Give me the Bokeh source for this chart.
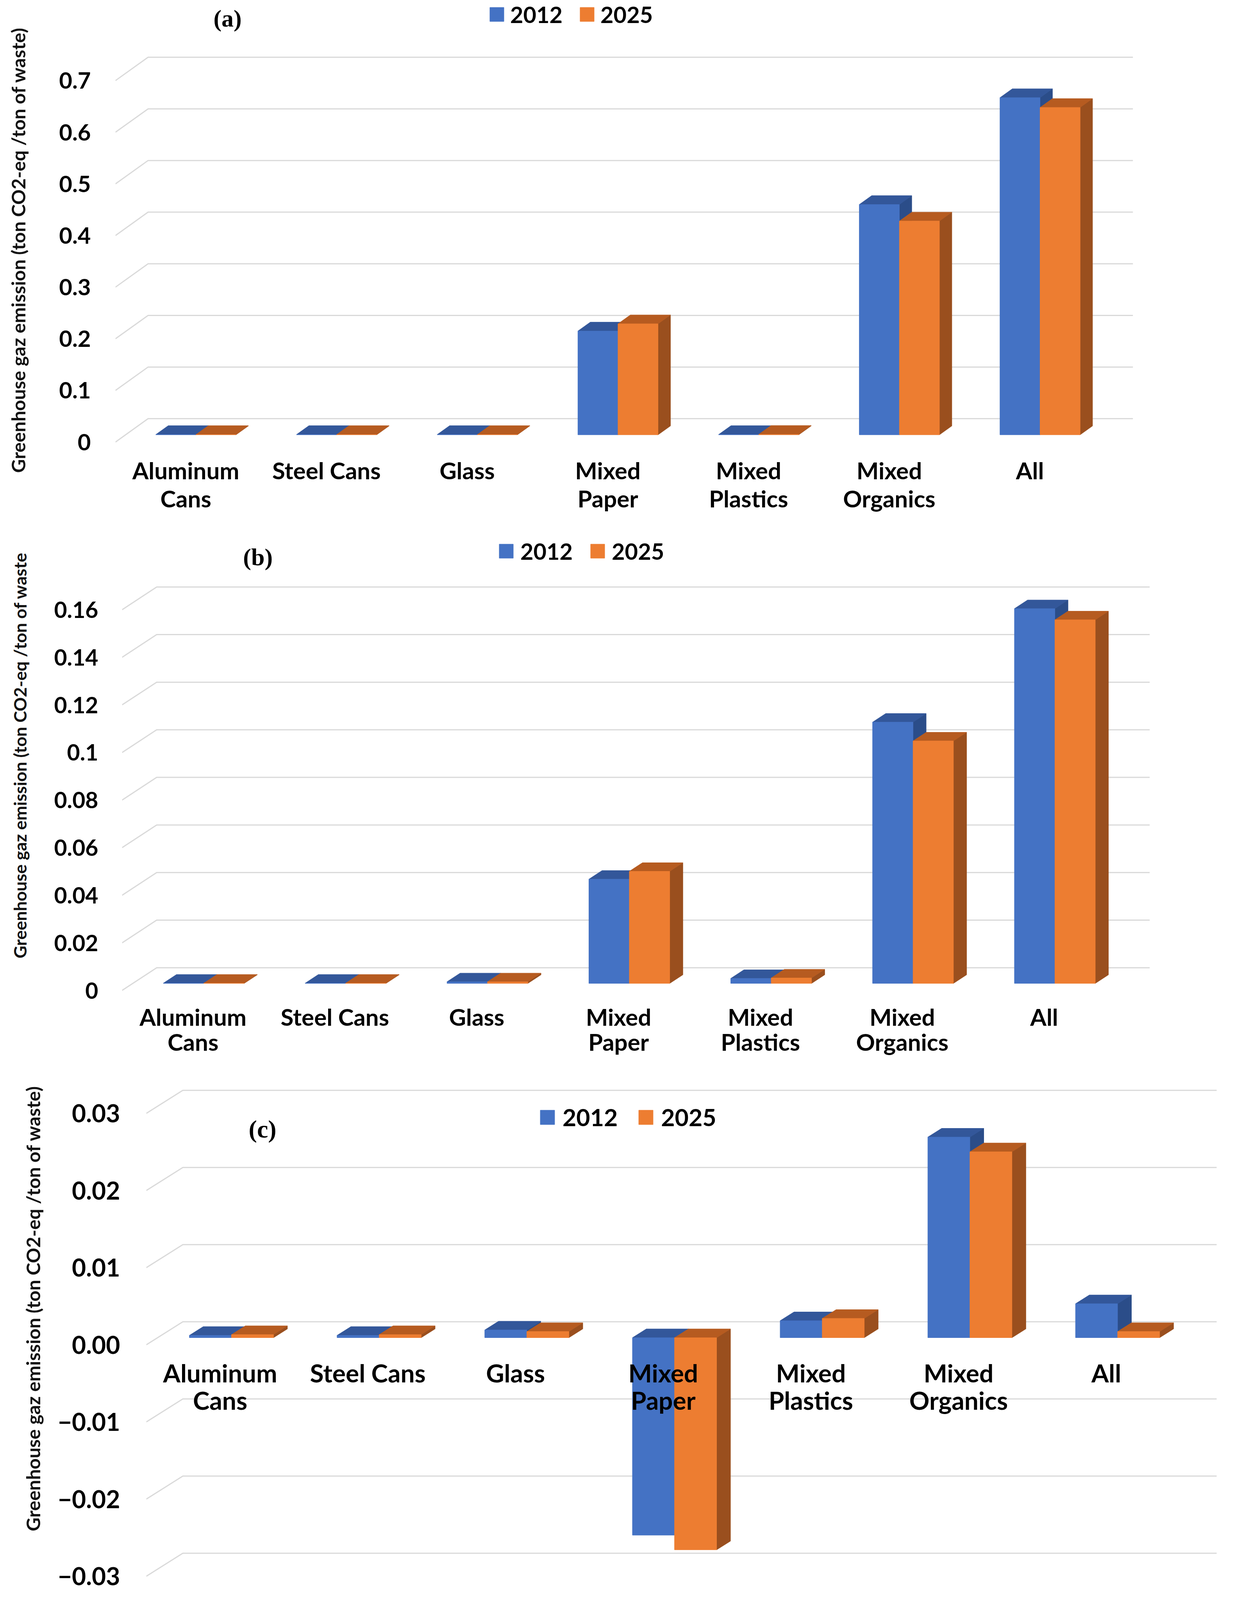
import math
from bokeh.plotting import figure
from bokeh.models import (Range1d, FixedTicker, CustomJSTickFormatter, Label,
                          Legend, LegendItem, ColumnDataSource)
from bokeh.layouts import column, row
from bokeh.embed import file_html
from bokeh.resources import INLINE
from bokeh.core.properties import value

# ---------------- data ----------------
categories = ["Aluminum Cans", "Steel Cans", "Glass", "Mixed Paper",
              "Mixed Plastics", "Mixed Organics", "All"]
cat_line1 = ["Aluminum", "Steel Cans", "Glass", "Mixed", "Mixed", "Mixed", "All"]
cat_line2 = ["Cans", "", "", "Paper", "Plastics", "Organics", ""]
series = ["2012", "2025"]

a_2012 = [0.0005, 0.0005, 0.0005, 0.201, 0.0005, 0.446, 0.653]
a_2025 = [0.0005, 0.0005, 0.0005, 0.215, 0.0008, 0.414, 0.634]
b_2012 = [0.0001, 0.0001, 0.0007, 0.0438, 0.0021, 0.1098, 0.1575]
b_2025 = [0.0001, 0.0001, 0.0007, 0.0471, 0.0023, 0.1019, 0.1528]
c_2012 = [0.0003, 0.0003, 0.0010, -0.0256, 0.0022, 0.0260, 0.0044]
c_2025 = [0.0004, 0.0004, 0.0008, -0.0275, 0.0025, 0.0241, 0.0008]

a_ticks = [0, 0.1, 0.2, 0.3, 0.4, 0.5, 0.6, 0.7]
a_tick_labels = ["0", "0.1", "0.2", "0.3", "0.4", "0.5", "0.6", "0.7"]
b_ticks = [0, 0.02, 0.04, 0.06, 0.08, 0.1, 0.12, 0.14, 0.16]
b_tick_labels = ["0", "0.02", "0.04", "0.06", "0.08", "0.1", "0.12", "0.14", "0.16"]
c_ticks = [-0.03, -0.02, -0.01, 0, 0.01, 0.02, 0.03]
c_tick_labels = ["\u22120.03", "\u22120.02", "\u22120.01", "0.00", "0.01", "0.02", "0.03"]

a_title = "Greenhouse gaz emission (ton CO2-eq /ton of waste)"
b_title = "Greenhouse gaz emission (ton CO2-eq /ton of waste"
c_title = "Greenhouse gaz emission (ton CO2-eq /ton of waste)"

# ---------------- styles / layout ----------------
BLUE = dict(front="#4472C4", top="#33579A", side="#2B4D89")
ORANGE = dict(front="#ED7D31", top="#B65B20", side="#9A4F1E")
GRID = "#D9D9D9"
FONT = "Lato"

# page mapping from the reference picture (the photo only holds ~4150 px of height)
KX = 3143 / 3159
KY = 0.855
PAGE_R = 3151
STRIP_R_REF = 125

TITLE_K = KY * 1.09
TICK_K = 1.04
LAB_K = 1.0
LEG_K = 1.05
TAG_K = 1.0


def X(x):
    return 8 + x * KX


def Y(y):
    return 8 + y * KY


LA = dict(top=0, bottom=1550, front_left=296, cat_w=362, dx=84, dy=70, zero_y=1323, ppu=1546,
          tick_right=233, tick_font=56, title_x=46, title_y=748, title_font=52,
          tag_x=585, tag_y=54, tag_font=62, leg_x=1260, leg_cy=37, leg_box=34,
          leg_font=55, leg_standoff=17, leg_spacing=45, lab1=85, lab2=169, lab_font=60)
LB = dict(top=1550, bottom=3195, front_left=314, cat_w=365, dx=89, dy=68, zero_y=2965, ppu=7125,
          tick_right=253, tick_font=55, title_x=51, title_y=2261, title_font=48,
          tag_x=663, tag_y=1667, tag_font=62, leg_x=1284, leg_cy=1643, leg_box=34,
          leg_font=55, leg_standoff=19, leg_spacing=46, lab1=79, lab2=154, lab_font=60)
LC = dict(top=3195, bottom=4795, front_left=376, cat_w=380, dx=94, dy=69, zero_y=4026, ppu=23100,
          tick_right=309, tick_font=60, title_x=84, title_y=3917, title_font=52,
          tag_x=675, tag_y=3380, tag_font=64, leg_x=1390, leg_cy=3338, leg_box=35,
          leg_font=58, leg_standoff=21, leg_spacing=54, lab1=84, lab2=166, lab_font=64)

BAR_W = 0.285   # bar width, fraction of category
F0 = 0.31       # depth position of bar front
FD = 0.38       # bar depth


def bar_faces(vals, offset, dxu, dyu):
    fr = dict(l=[], r=[], b=[], t=[])
    tops_x, tops_y, sides_x, sides_y = [], [], [], []
    ddx, ddy = FD * dxu, FD * dyu
    for i, v in enumerate(vals):
        c = i + 0.5
        x0 = c + offset * BAR_W + F0 * dxu
        x1 = x0 + BAR_W
        y0 = min(0.0, v) + F0 * dyu
        y1 = max(0.0, v) + F0 * dyu
        fr["l"].append(x0); fr["r"].append(x1); fr["b"].append(y0); fr["t"].append(y1)
        tops_x.append([x0, x1, x1 + ddx, x0 + ddx])
        tops_y.append([y1, y1, y1 + ddy, y1 + ddy])
        sides_x.append([x1, x1 + ddx, x1 + ddx, x1])
        sides_y.append([y0, y0 + ddy, y1 + ddy, y1])
    return fr, (tops_x, tops_y), (sides_x, sides_y)


def make_panel(v1, v2, ticks, tick_labels, tag, ytitle, L):
    n = len(categories)
    ptop, pbot = round(Y(L["top"])), round(Y(L["bottom"]))
    h = pbot - ptop
    fl = X(L["front_left"])
    cw = L["cat_w"] * KX
    ppu = L["ppu"] * KY
    zy = Y(L["zero_y"])
    dxu, dyu = L["dx"] * KX / cw, L["dy"] * KY / ppu
    strip_r = round(X(STRIP_R_REF))
    fl_i = round(fl)

    # --- narrow strip holding the rotated axis title ---
    s = figure(frame_width=strip_r - 8, frame_height=h,
               x_range=Range1d(8, strip_r), y_range=Range1d(pbot, ptop),
               min_border=0, x_axis_location=None, y_axis_location=None,
               output_backend="svg", toolbar_location=None)
    s.grid.visible = False
    s.outline_line_color = None
    s.text(x=[X(L["title_x"])], y=[Y(L["title_y"])], text=[ytitle], angle=math.pi / 2,
           text_align="center", text_baseline="middle", text_font=value(FONT),
           text_font_style="bold", text_font_size=f"{L['title_font'] * TITLE_K:.1f}px",
           text_color="#111111")

    # --- main chart ---
    x_end = (PAGE_R - fl_i) / cw
    y_start = (zy - pbot) / ppu
    y_end = (zy - ptop) / ppu
    p = figure(frame_width=PAGE_R - fl_i, frame_height=h,
               x_range=Range1d(0, x_end), y_range=Range1d(y_start, y_end),
               min_border_left=fl_i - strip_r, min_border_right=0, min_border_top=0,
               min_border_bottom=0, x_axis_location=None,
               output_backend="svg", toolbar_location=None)
    p.grid.visible = False
    p.outline_line_color = None

    # back wall gridlines with diagonal side wall
    gx = [[0, dxu, n + dxu] for t in ticks]
    gy = [[t, t + dyu, t + dyu] for t in ticks]
    p.multi_line(gx, gy, line_color=GRID, line_width=3)

    renderers = []
    for vals, off, col in ((v1, -1, BLUE), (v2, 0, ORANGE)):
        fr, tp, sd = bar_faces(vals, off, dxu, dyu)
        p.patches(sd[0], sd[1], fill_color=col["side"], line_color=col["side"], line_width=1)
        p.patches(tp[0], tp[1], fill_color=col["top"], line_color=col["top"], line_width=1)
        r = p.quad(left=fr["l"], right=fr["r"], bottom=fr["b"], top=fr["t"],
                   fill_color=col["front"], line_color=col["front"], line_width=1)
        renderers.append(r)

    # category labels
    src = ColumnDataSource(dict(x=[i + 0.5 for i in range(n)], y=[0.0] * n,
                                l1=cat_line1, l2=cat_line2))
    for key, off in (("l1", L["lab1"]), ("l2", L["lab2"])):
        p.text(x="x", y="y", text=key, source=src, y_offset=off * KY,
               text_align="center", text_baseline="middle",
               text_font=value(FONT), text_font_style="bold",
               text_font_size=f"{L['lab_font'] * LAB_K:.1f}px", text_color="black")

    # y axis (labels at the front plane)
    ax = p.yaxis[0]
    ax.ticker = FixedTicker(ticks=ticks)
    ax.formatter = CustomJSTickFormatter(args=dict(tv=ticks, tl=tick_labels), code="""
        for (let i = 0; i < tv.length; i++) {
            if (Math.abs(tv[i] - tick) < 1e-9) { return tl[i]; }
        }
        return '';
    """)
    ax.axis_line_color = None
    ax.major_tick_line_color = None
    ax.minor_tick_line_color = None
    ax.major_tick_out = 0
    ax.major_tick_in = 0
    ax.major_label_standoff = round(fl - X(L["tick_right"]))
    ax.major_label_text_font = FONT
    ax.major_label_text_font_style = "bold"
    ax.major_label_text_font_size = f"{L['tick_font'] * TICK_K:.1f}px"
    ax.major_label_text_color = "black"

    # panel tag
    p.add_layout(Label(x=(X(L["tag_x"]) - fl_i) / cw, y=(zy - Y(L["tag_y"])) / ppu,
                       text=tag, text_align="center", text_baseline="middle",
                       text_font="Liberation Serif", text_font_style="bold",
                       text_font_size=f"{L['tag_font'] * TAG_K:.1f}px", text_color="black"))

    # legend
    lf = L["leg_font"] * LEG_K
    box = L["leg_box"] * LEG_K
    gw = box / 0.8
    hl = 1.38 * lf
    legend = Legend(items=[LegendItem(label=series[0], renderers=[renderers[0]]),
                           LegendItem(label=series[1], renderers=[renderers[1]])],
                    orientation="horizontal",
                    location=(round(X(L["leg_x"]) - 0.1 * gw - fl_i),
                              round((pbot - Y(L["leg_cy"])) - hl / 2)),
                    glyph_width=round(gw), glyph_height=round(gw), label_height=round(gw),
                    label_standoff=round(L["leg_standoff"] * KX - 0.1 * gw),
                    spacing=round(L["leg_spacing"] * KX - 0.1 * gw),
                    padding=0, margin=0, border_line_color=None,
                    background_fill_alpha=0,
                    label_text_font=FONT, label_text_font_style="bold",
                    label_text_font_size=f"{lf:.1f}px",
                    label_text_color="black", label_text_baseline="middle")
    p.add_layout(legend)
    return row(s, p, spacing=0)


pa = make_panel(a_2012, a_2025, a_ticks, a_tick_labels, "(a)", a_title, LA)
pb = make_panel(b_2012, b_2025, b_ticks, b_tick_labels, "(b)", b_title, LB)
pc = make_panel(c_2012, c_2025, c_ticks, c_tick_labels, "(c)", c_title, LC)

layout = column(pa, pb, pc, spacing=0)
open("out.html", "w").write(file_html(layout, INLINE))
